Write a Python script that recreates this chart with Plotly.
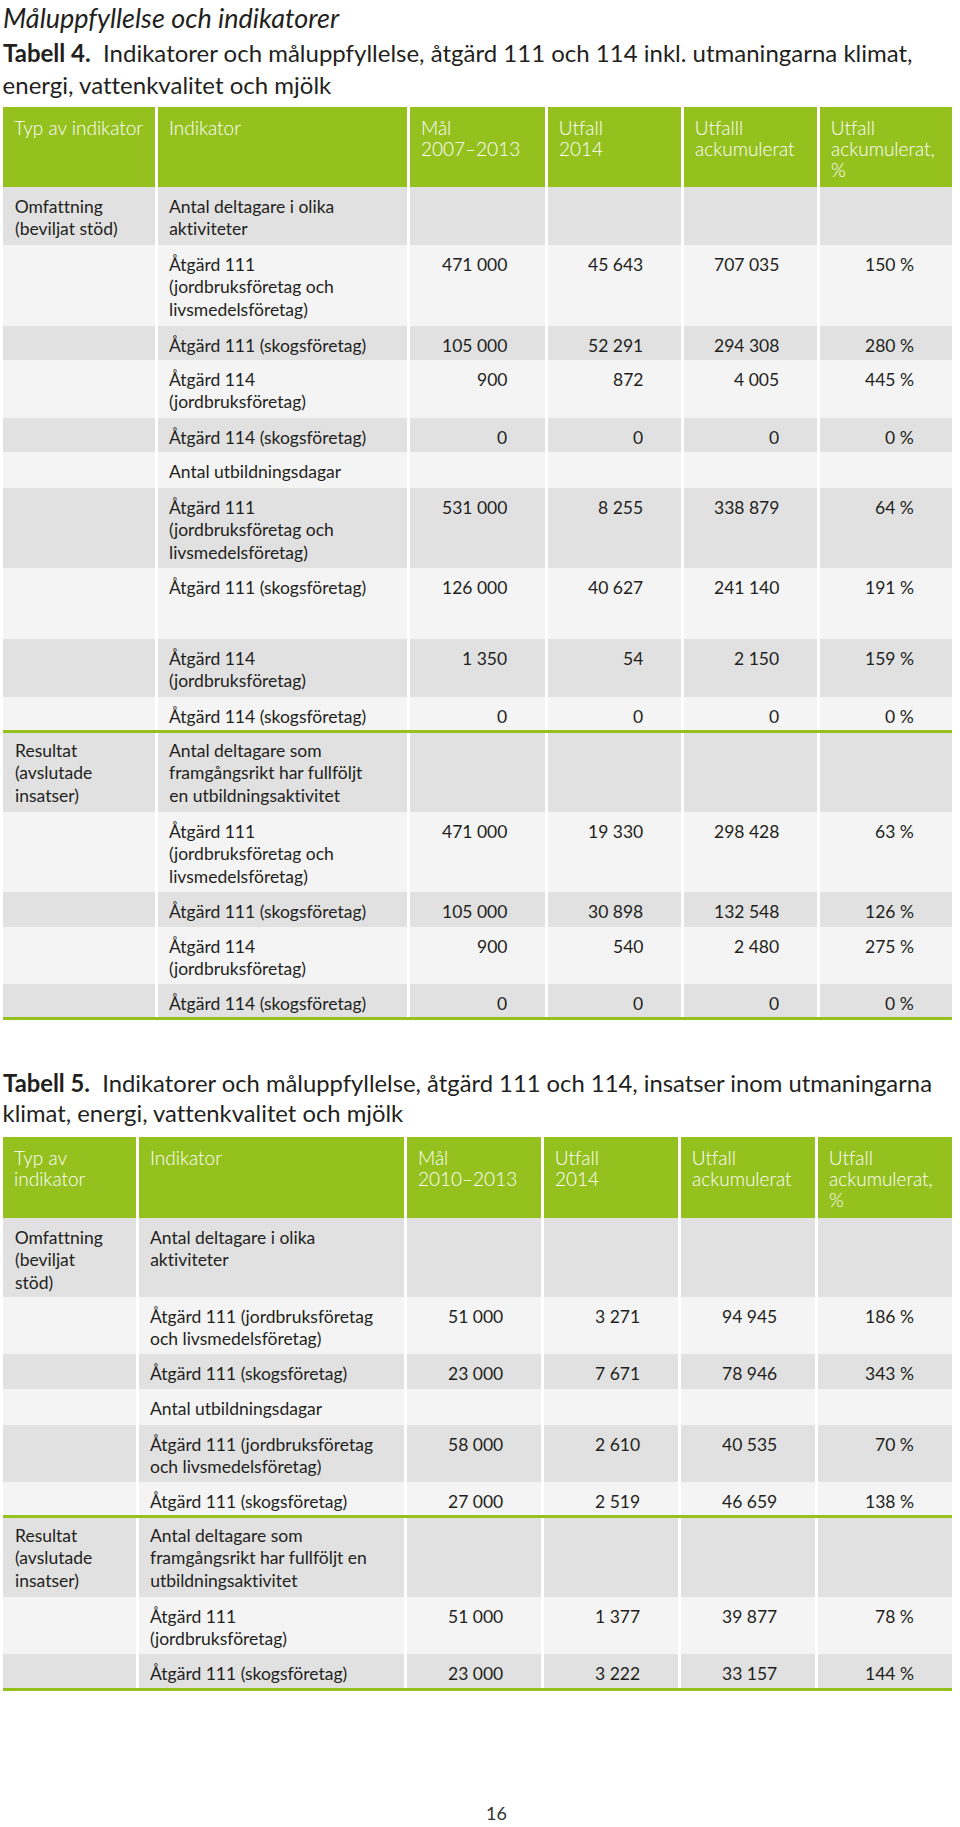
import plotly.graph_objects as go

# ---------------- DATA : Tabell 4 ----------------
t4_title = "Måluppfyllelse och indikatorer"
t4_caption_bold = "Tabell 4."
t4_caption = ["Indikatorer och måluppfyllelse, åtgärd 111 och 114 inkl. utmaningarna klimat,",
              "energi, vattenkvalitet och mjölk"]
t4_headers = ["Typ av indikator", "Indikator", "Mål<br>2007–2013", "Utfall<br>2014",
              "Utfalll<br>ackumulerat", "Utfall<br>ackumulerat,<br>%"]
t4_typ = ["Omfattning<br>(beviljat stöd)", "", "", "", "", "", "", "", "", "",
          "Resultat<br>(avslutade<br>insatser)", "", "", "", ""]
t4_indikator = ["Antal deltagare i olika<br>aktiviteter",
                "Åtgärd 111<br>(jordbruksföretag och<br>livsmedelsföretag)",
                "Åtgärd 111 (skogsföretag)",
                "Åtgärd 114<br>(jordbruksföretag)",
                "Åtgärd 114 (skogsföretag)",
                "Antal utbildningsdagar",
                "Åtgärd 111<br>(jordbruksföretag och<br>livsmedelsföretag)",
                "Åtgärd 111 (skogsföretag)",
                "Åtgärd 114<br>(jordbruksföretag)",
                "Åtgärd 114 (skogsföretag)",
                "Antal deltagare som<br>framgångsrikt har fullföljt<br>en utbildningsaktivitet",
                "Åtgärd 111<br>(jordbruksföretag och<br>livsmedelsföretag)",
                "Åtgärd 111 (skogsföretag)",
                "Åtgärd 114<br>(jordbruksföretag)",
                "Åtgärd 114 (skogsföretag)"]
t4_mal = [None, 471000, 105000, 900, 0, None, 531000, 126000, 1350, 0, None, 471000, 105000, 900, 0]
t4_utfall = [None, 45643, 52291, 872, 0, None, 8255, 40627, 54, 0, None, 19330, 30898, 540, 0]
t4_ack = [None, 707035, 294308, 4005, 0, None, 338879, 241140, 2150, 0, None, 298428, 132548, 2480, 0]
t4_pct = [None, 150, 280, 445, 0, None, 64, 191, 159, 0, None, 63, 126, 275, 0]

# ---------------- DATA : Tabell 5 ----------------
t5_caption_bold = "Tabell 5."
t5_caption = ["Indikatorer och måluppfyllelse, åtgärd 111 och 114, insatser inom utmaningarna",
              "klimat, energi, vattenkvalitet och mjölk"]
t5_headers = ["Typ av<br>indikator", "Indikator", "Mål<br>2010–2013", "Utfall<br>2014",
              "Utfall<br>ackumulerat", "Utfall<br>ackumulerat,<br>%"]
t5_typ = ["Omfattning<br>(beviljat<br>stöd)", "", "", "", "", "",
          "Resultat<br>(avslutade<br>insatser)", "", ""]
t5_indikator = ["Antal deltagare i olika<br>aktiviteter",
                "Åtgärd 111 (jordbruksföretag<br>och livsmedelsföretag)",
                "Åtgärd 111 (skogsföretag)",
                "Antal utbildningsdagar",
                "Åtgärd 111 (jordbruksföretag<br>och livsmedelsföretag)",
                "Åtgärd 111 (skogsföretag)",
                "Antal deltagare som<br>framgångsrikt har fullföljt en<br>utbildningsaktivitet",
                "Åtgärd 111<br>(jordbruksföretag)",
                "Åtgärd 111 (skogsföretag)"]
t5_mal = [None, 51000, 23000, None, 58000, 27000, None, 51000, 23000]
t5_utfall = [None, 3271, 7671, None, 2610, 2519, None, 1377, 3222]
t5_ack = [None, 94945, 78946, None, 40535, 46659, None, 39877, 33157]
t5_pct = [None, 186, 343, None, 70, 138, None, 78, 144]
page_number = "16"

# ---------------- LAYOUT / STYLE ----------------
W, H = 960, 1827
FONT = "Lato, 'Open Sans', sans-serif"
TXT = "#231f20"
GREEN = "#95c11f"
DARK = "#e1e1e1"
LIGHT = "#f4f4f4"
FS = 17.5
LS = 22.5
HFS = 19
HLS = 21

T4_COLS = [(3, 155), (158, 407), (410, 545), (548, 681), (684, 817), (820, 952)]
T4_HEAD = (107, 187)
T4_EDGES = [187, 245, 326, 360, 418, 452, 488, 568, 639, 697, 731, 812, 892, 927, 984, 1018]
T4_RULES = [730, 1017]

T5_COLS = [(3, 136), (139, 404), (407, 541), (544, 678), (681, 815), (818, 952)]
T5_HEAD = (1137, 1218)
T5_EDGES = [1218, 1297, 1354, 1389, 1425, 1482, 1516, 1597, 1654, 1689]
T5_RULES = [1515, 1688]

shapes = []
annos = []


def fmt_num(v):
    if v is None:
        return ""
    return f"{v:,}".replace(",", " ")


def fmt_pct(v):
    if v is None:
        return ""
    return f"{v} %"


def add_text(text, x, ytop, anchor="left", color=TXT, size=FS, first=19, ls=LS, weight=400):
    for i, line in enumerate(text.split("<br>")):
        if not line:
            continue
        annos.append(dict(x=x, y=ytop + first + i * ls, xref="x", yref="y", text=line,
                          showarrow=False, xanchor=anchor, yanchor="middle",
                          font=dict(family=FONT, size=size, color=color, weight=weight)))


def rect(x0, y0, x1, y1, color):
    shapes.append(dict(type="rect", xref="x", yref="y", x0=x0, x1=x1, y0=y0, y1=y1,
                       fillcolor=color, line=dict(width=0), layer="below"))


def build_table(cols, head, edges, rules, headers, typ, ind, mal, utf, ack, pct):
    # header
    for (c0, c1), h in zip(cols, headers):
        rect(c0, head[0], c1, head[1], GREEN)
        add_text(h, c0 + 9, head[0], color="white", size=HFS, first=20, ls=HLS, weight=300)
    # rows
    for r in range(len(edges) - 1):
        y0, y1 = edges[r], edges[r + 1]
        shade = DARK if r % 2 == 0 else LIGHT
        for c0, c1 in cols:
            rect(c0, y0, c1, y1, shade)
        add_text(typ[r], cols[0][0] + 10, y0)
        add_text(ind[r], cols[1][0] + 9, y0)
        vals = [fmt_num(mal[r]), fmt_num(utf[r]), fmt_num(ack[r]), fmt_pct(pct[r])]
        for (c0, c1), v in zip(cols[2:], vals):
            add_text(v, c1 - 36, y0, anchor="right")
    for ry in rules:
        rect(cols[0][0], ry, cols[-1][1], ry + 3, GREEN)


build_table(T4_COLS, T4_HEAD, T4_EDGES, T4_RULES, t4_headers, t4_typ, t4_indikator,
            t4_mal, t4_utfall, t4_ack, t4_pct)
build_table(T5_COLS, T5_HEAD, T5_EDGES, T5_RULES, t5_headers, t5_typ, t5_indikator,
            t5_mal, t5_utfall, t5_ack, t5_pct)

# titles
annos.append(dict(x=1, y=17, xref="x", yref="y", text=f"<i>{t4_title}</i>", showarrow=False,
                  xanchor="left", yanchor="middle", font=dict(family=FONT, size=27, color=TXT)))
for i, line in enumerate(t4_caption):
    prefix = f"<b>{t4_caption_bold}</b>  " if i == 0 else ""
    annos.append(dict(x=1, y=52 + i * 32, xref="x", yref="y", text=prefix + line, showarrow=False,
                      xanchor="left", yanchor="middle", font=dict(family=FONT, size=24, color=TXT)))
for i, line in enumerate(t5_caption):
    prefix = f"<b>{t5_caption_bold}</b>  " if i == 0 else ""
    annos.append(dict(x=1, y=1083 + i * 30, xref="x", yref="y", text=prefix + line, showarrow=False,
                      xanchor="left", yanchor="middle", font=dict(family=FONT, size=23.8, color=TXT)))
annos.append(dict(x=496, y=1813, xref="x", yref="y", text=page_number, showarrow=False,
                  xanchor="center", yanchor="middle", font=dict(family=FONT, size=18, color="#333")))

fig = go.Figure()
fig.add_trace(go.Scatter(x=[0, W], y=[0, H], mode="markers", marker=dict(opacity=0),
                         hoverinfo="skip", showlegend=False))
fig.update_layout(width=W, height=H, margin=dict(l=0, r=0, t=0, b=0),
                  paper_bgcolor="white", plot_bgcolor="white",
                  xaxis=dict(range=[0, W], visible=False, fixedrange=True),
                  yaxis=dict(range=[H, 0], visible=False, fixedrange=True),
                  shapes=shapes, annotations=annos, showlegend=False)
fig.write_html("out.html", config={"displayModeBar": False, "staticPlot": True},
               post_script=("document.body.style.margin='0';document.body.style.overflow='hidden';"
                            "var s=document.createElement('style');"
                            "s.textContent='text{font-variant-ligatures:none !important;}';"
                            "document.head.appendChild(s);"))
